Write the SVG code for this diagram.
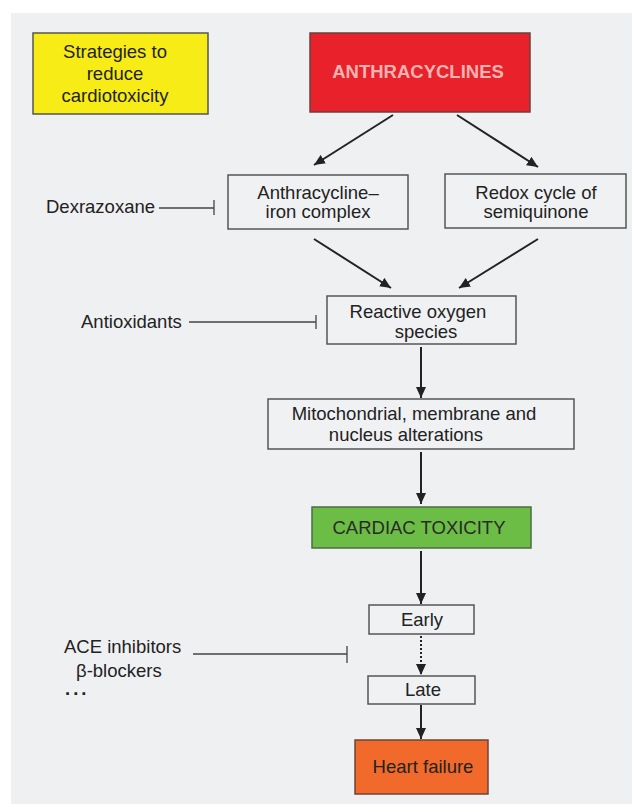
<svg xmlns="http://www.w3.org/2000/svg" width="632" height="804" viewBox="0 0 632 804">
<defs>
<style>
text{font-family:"Liberation Sans",Arial,sans-serif;font-size:18.5px;fill:#222}
.m{text-anchor:middle}
.box{fill:#f0f1f3;stroke:#555;stroke-width:1.5}
.arr{stroke:#222;stroke-width:2;fill:none}
.inh{stroke:#444;stroke-width:1.3;fill:none}
</style>
<marker id="ah" markerUnits="userSpaceOnUse" markerWidth="12" markerHeight="10" refX="11" refY="5" orient="auto">
<path d="M0,0 L11,5 L0,10 Z" fill="#222"/>
</marker>
</defs>
<rect x="0" y="0" width="632" height="804" fill="#ffffff"/>
<rect x="11" y="13" width="621" height="791" fill="#eff0f2"/>

<g id="strategies">
<rect x="33" y="33" width="175" height="81" fill="#f8ec16" stroke="#555" stroke-width="1.5"/>
<text class="m" x="115" y="58">Strategies to</text>
<text class="m" x="115" y="80">reduce</text>
<text class="m" x="115" y="102">cardiotoxicity</text>
</g>

<g id="anthracyclines">
<rect x="310" y="33" width="220" height="79" fill="#e8212a" stroke="#6a4040" stroke-width="1.5"/>
<text class="m" x="418" y="78" style="font-weight:bold;fill:#f6b3b3">ANTHRACYCLINES</text>
</g>

<g id="iron-complex">
<rect class="box" x="228" y="175" width="180" height="54"/>
<text class="m" x="318" y="199">Anthracycline–</text>
<text class="m" x="318" y="218">iron complex</text>
</g>

<g id="redox">
<rect class="box" x="445" y="174" width="181" height="54"/>
<text class="m" x="536" y="199">Redox cycle of</text>
<text class="m" x="536" y="218">semiquinone</text>
</g>

<g id="ros">
<rect class="box" x="327" y="296" width="189" height="48"/>
<text class="m" x="418" y="318">Reactive oxygen</text>
<text class="m" x="426" y="338">species</text>
</g>

<g id="alterations">
<rect class="box" x="268" y="399" width="306" height="50"/>
<text class="m" x="414" y="420">Mitochondrial, membrane and</text>
<text class="m" x="406" y="441">nucleus alterations</text>
</g>

<g id="cardiac">
<rect x="312" y="507" width="219" height="41" fill="#6cbd45" stroke="#4f6b45" stroke-width="1.5"/>
<text class="m" x="419" y="534" style="fill:#2a2a2a">CARDIAC TOXICITY</text>
</g>

<g id="early">
<rect class="box" x="369" y="605" width="105" height="29"/>
<text class="m" x="422" y="626">Early</text>
</g>

<g id="late">
<rect class="box" x="368" y="676" width="107" height="28"/>
<text class="m" x="423" y="696">Late</text>
</g>

<g id="heart-failure">
<rect x="355" y="740" width="133" height="54" fill="#f26a2b" stroke="#6b4535" stroke-width="1.5"/>
<text class="m" x="423" y="773">Heart failure</text>
</g>

<g id="dexrazoxane">
<text x="46" y="213">Dexrazoxane</text>
</g>
<g id="antioxidants">
<text x="81" y="328">Antioxidants</text>
</g>
<g id="ace">
<text x="64" y="653">ACE inhibitors</text>
<text x="76" y="677">β-blockers</text>
<text x="65" y="695" style="letter-spacing:3px;font-weight:bold">...</text>
</g>

<g id="connectors">
<line class="arr" x1="393" y1="115" x2="314" y2="165" marker-end="url(#ah)"/>
<line class="arr" x1="457" y1="115" x2="538" y2="167" marker-end="url(#ah)"/>
<line class="arr" x1="314" y1="239" x2="391" y2="288" marker-end="url(#ah)"/>
<line class="arr" x1="538" y1="239" x2="459" y2="288" marker-end="url(#ah)"/>
<line class="arr" x1="421" y1="347" x2="421" y2="398" marker-end="url(#ah)"/>
<line class="arr" x1="421" y1="452" x2="421" y2="504" marker-end="url(#ah)"/>
<line class="arr" x1="421" y1="551" x2="421" y2="604" marker-end="url(#ah)"/>
<line class="arr" x1="421" y1="636" x2="421" y2="675" stroke-dasharray="2,2" marker-end="url(#ah)"/>
<line class="arr" x1="421" y1="705" x2="421" y2="739" marker-end="url(#ah)"/>
<path class="inh" d="M159,208 H214 M214,200 V215"/>
<path class="inh" d="M189,322 H316 M316,315 V329"/>
<path class="inh" d="M193,654 H347 M347,646 V663"/>
</g>
</svg>
